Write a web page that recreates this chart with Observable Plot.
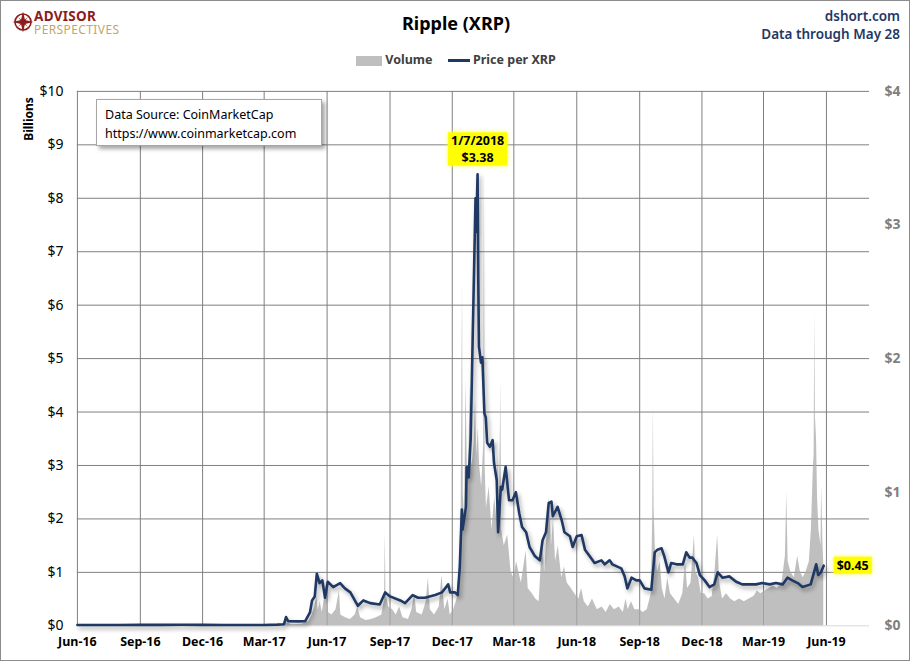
<!DOCTYPE html>
<html><head><meta charset="utf-8">
<script src="https://cdn.jsdelivr.net/npm/d3@7"></script>
<script src="https://cdn.jsdelivr.net/npm/@observablehq/plot@0.6"></script>
<style>
body{margin:0;background:#fff;}
#wrap{position:relative;width:910px;height:661px;box-sizing:border-box;border:1px solid #8c8c8c;font-family:"Noto Sans",sans-serif;overflow:hidden;background:#fff}
#chart{position:absolute;left:-1px;top:-1px}
.abs{position:absolute;white-space:nowrap;line-height:1}
#title{left:0;width:910px;text-align:center;top:13px;font-size:18px;font-weight:bold;color:#000}
#dshort{right:9px;top:6px;text-align:right;font-size:13.5px;font-weight:600;color:#1f3864;line-height:18px}
#legend{left:355px;top:53px;font-size:12.5px;font-weight:bold;color:#404040}
#legend span.t{vertical-align:middle}
#billions{left:28px;top:118px;font-size:12px;font-weight:bold;color:#000;transform:translate(-50%,-50%) rotate(-90deg)}
#src{left:95px;top:98px;width:226px;height:47px;box-sizing:border-box;border:1px solid #a6a6a6;background:#fff;box-shadow:3px 3px 4px rgba(0,0,0,0.35);font-size:12.5px;color:#000;padding:5px 0 0 8px;line-height:19px}
#logo{left:33px;top:9px;line-height:11.5px}
#logo .a{font-size:13.5px;font-weight:bold;color:#8b1c1c;letter-spacing:0.3px}
#logo .p{font-size:12px;color:#c4a66a;letter-spacing:0.4px}
</style></head>
<body>
<div id="wrap">
  <div id="chart"></div>
  <svg class="abs" style="left:11px;top:10px" width="22" height="22" viewBox="-11 -11 22 22">
    <circle r="8" fill="none" stroke="#8b1c1c" stroke-width="1.6"/>
    <polygon points="0,-10.5 2,-2 10.5,0 2,2 0,10.5 -2,2 -10.5,0 -2,-2" fill="#8b1c1c"/>
    <polygon points="5,-5 1,0 5,5 0,1 -5,5 -1,0 -5,-5 0,-1" fill="#8b1c1c"/>
  </svg>
  <div class="abs" id="logo"><span class="a">ADVISOR</span><br><span class="p">PERSPECTIVES</span></div>
  <div class="abs" id="title">Ripple (XRP)</div>
  <div class="abs" id="dshort">dshort.com<br>Data through May 28</div>
  <div class="abs" id="legend">
    <span style="display:inline-block;width:26px;height:10px;background:#bfbfbf;vertical-align:middle"></span>
    <span class="t">Volume</span>
    <span style="display:inline-block;width:22px;height:2.5px;background:#1f3864;vertical-align:middle;margin-left:12px"></span>
    <span class="t">Price per XRP</span>
  </div>
  <div class="abs" id="billions">Billions</div>
  <div class="abs" id="src">Data Source: CoinMarketCap<br>https://www.coinmarketcap.com</div>
</div>
<script>
// ---- data ----
const xTickDates = ["2016-06-01","2016-09-01","2016-12-01","2017-03-01","2017-06-01","2017-09-01","2017-12-01","2018-03-01","2018-06-01","2018-09-01","2018-12-01","2019-03-01","2019-06-01"];
const leftTicks = [0,1,2,3,4,5,6,7,8,9,10];     // billions
const rightTicks = [0,1,2,3,4];                  // price in $
const priceToBillions = 2.5;                     // $4 price aligns with $10B

const price = [
["2016-06-01",0.006],["2016-07-01",0.0065],["2016-08-01",0.0062],["2016-09-01",0.0068],["2016-10-01",0.0072],["2016-11-01",0.0075],["2016-12-01",0.0068],["2017-01-01",0.0064],["2017-02-01",0.0063],["2017-03-01",0.0065],["2017-03-20",0.0085],["2017-03-30",0.012],["2017-04-02",0.065],["2017-04-05",0.035],["2017-04-20",0.033],["2017-04-30",0.035],["2017-05-07",0.10],["2017-05-10",0.19],["2017-05-14",0.22],["2017-05-17",0.39],["2017-05-21",0.32],["2017-05-25",0.34],["2017-05-29",0.21],["2017-06-02",0.33],["2017-06-10",0.29],["2017-06-20",0.32],["2017-06-27",0.28],["2017-07-05",0.25],["2017-07-16",0.15],["2017-07-24",0.19],["2017-08-03",0.17],["2017-08-17",0.16],["2017-08-25",0.25],["2017-09-01",0.22],["2017-09-16",0.19],["2017-09-23",0.17],["2017-10-04",0.23],["2017-10-12",0.21],["2017-10-22",0.21],["2017-11-06",0.23],["2017-11-16",0.25],["2017-11-25",0.31],["2017-11-28",0.25],["2017-12-05",0.25],["2017-12-09",0.23],["2017-12-12",0.44],["2017-12-15",0.87],["2017-12-16",0.72],["2017-12-21",0.89],["2017-12-22",1.19],["2017-12-25",1.11],["2017-12-28",1.41],["2017-12-31",2.2],["2018-01-03",2.95],["2018-01-04",3.2],["2018-01-05",2.95],["2018-01-07",3.38],["2018-01-08",2.6],["2018-01-09",2.09],["2018-01-12",1.97],["2018-01-14",2.01],["2018-01-17",1.59],["2018-01-19",1.56],["2018-01-21",1.37],["2018-01-25",1.34],["2018-01-29",1.39],["2018-01-31",1.22],["2018-02-04",1.09],["2018-02-06",0.70],["2018-02-10",1.04],["2018-02-12",1.02],["2018-02-17",1.19],["2018-02-22",0.94],["2018-02-27",0.94],["2018-03-04",1.00],["2018-03-09",0.84],["2018-03-13",0.74],["2018-03-19",0.70],["2018-03-24",0.59],["2018-04-01",0.52],["2018-04-08",0.49],["2018-04-12",0.64],["2018-04-17",0.70],["2018-04-21",0.92],["2018-04-25",0.93],["2018-04-27",0.82],["2018-05-04",0.89],["2018-05-10",0.79],["2018-05-14",0.70],["2018-05-22",0.67],["2018-05-26",0.59],["2018-06-01",0.67],["2018-06-08",0.68],["2018-06-13",0.57],["2018-06-20",0.52],["2018-06-27",0.47],["2018-07-07",0.49],["2018-07-12",0.46],["2018-07-19",0.49],["2018-07-23",0.46],["2018-08-05",0.43],["2018-08-10",0.37],["2018-08-14",0.28],["2018-08-20",0.36],["2018-08-27",0.34],["2018-09-01",0.34],["2018-09-08",0.28],["2018-09-18",0.27],["2018-09-23",0.55],["2018-09-27",0.57],["2018-10-03",0.58],["2018-10-07",0.52],["2018-10-13",0.40],["2018-10-17",0.47],["2018-10-25",0.46],["2018-11-03",0.46],["2018-11-08",0.55],["2018-11-13",0.51],["2018-11-17",0.51],["2018-11-23",0.47],["2018-11-28",0.38],["2018-12-05",0.34],["2018-12-12",0.29],["2018-12-19",0.31],["2018-12-24",0.40],["2018-12-31",0.36],["2019-01-10",0.37],["2019-01-20",0.33],["2019-01-29",0.31],["2019-02-09",0.31],["2019-02-18",0.31],["2019-02-27",0.32],["2019-03-10",0.31],["2019-03-19",0.32],["2019-03-29",0.31],["2019-04-05",0.36],["2019-04-12",0.34],["2019-04-20",0.32],["2019-04-27",0.29],["2019-05-09",0.31],["2019-05-17",0.46],["2019-05-20",0.38],["2019-05-24",0.40],["2019-05-28",0.45]
];

const volume = [
["2016-06-01",0.002],["2016-09-01",0.002],["2016-12-01",0.003],["2017-03-01",0.003],["2017-03-25",0.01],["2017-04-02",0.06],["2017-04-10",0.02],["2017-04-25",0.03],["2017-05-05",0.08],["2017-05-10",0.2],["2017-05-14",0.35],["2017-05-17",0.55],["2017-05-19",0.3],["2017-05-22",0.45],["2017-05-25",0.25],["2017-05-31",0.75],["2017-06-03",0.25],["2017-06-08",0.2],["2017-06-14",0.3],["2017-06-19",0.65],["2017-06-21",0.2],["2017-06-28",0.15],["2017-07-05",0.12],["2017-07-12",0.2],["2017-07-16",0.35],["2017-07-20",0.15],["2017-07-28",0.1],["2017-08-05",0.12],["2017-08-12",0.15],["2017-08-20",0.2],["2017-08-24",0.5],["2017-08-25",1.75],["2017-08-26",0.6],["2017-08-30",0.35],["2017-09-05",0.3],["2017-09-10",0.2],["2017-09-15",0.35],["2017-09-20",0.15],["2017-09-28",0.12],["2017-10-03",0.3],["2017-10-07",0.6],["2017-10-10",0.25],["2017-10-18",0.2],["2017-10-24",0.45],["2017-10-27",0.9],["2017-10-30",0.3],["2017-11-05",0.2],["2017-11-12",0.35],["2017-11-16",0.95],["2017-11-20",0.3],["2017-11-25",0.5],["2017-11-28",0.2],["2017-12-03",0.3],["2017-12-08",0.5],["2017-12-12",1.2],["2017-12-14",2.2],["2017-12-16",6.4],["2017-12-17",2.5],["2017-12-19",2.0],["2017-12-20",3.2],["2017-12-21",4.6],["2017-12-23",3.0],["2017-12-25",2.8],["2017-12-27",4.5],["2017-12-28",3.2],["2017-12-30",3.0],["2018-01-02",3.4],["2018-01-04",4.2],["2018-01-06",3.2],["2018-01-08",3.7],["2018-01-10",3.0],["2018-01-13",2.6],["2018-01-16",3.4],["2018-01-17",8.6],["2018-01-18",3.0],["2018-01-20",2.2],["2018-01-24",2.6],["2018-01-28",1.8],["2018-02-01",2.4],["2018-02-04",2.0],["2018-02-06",3.2],["2018-02-08",2.0],["2018-02-10",4.6],["2018-02-11",1.8],["2018-02-15",1.5],["2018-02-20",1.7],["2018-02-25",1.0],["2018-03-01",0.9],["2018-03-05",1.2],["2018-03-12",0.8],["2018-03-19",1.4],["2018-03-22",0.7],["2018-03-28",0.6],["2018-04-02",0.5],["2018-04-07",0.45],["2018-04-12",1.6],["2018-04-15",1.0],["2018-04-19",1.8],["2018-04-22",2.4],["2018-04-25",1.5],["2018-04-28",2.0],["2018-05-01",1.2],["2018-05-05",1.5],["2018-05-10",0.9],["2018-05-14",1.1],["2018-05-18",0.8],["2018-05-24",0.7],["2018-05-29",0.6],["2018-06-04",0.5],["2018-06-08",0.7],["2018-06-12",0.45],["2018-06-18",0.35],["2018-06-24",0.5],["2018-07-01",0.3],["2018-07-08",0.35],["2018-07-14",0.25],["2018-07-20",0.4],["2018-07-26",0.3],["2018-08-02",0.35],["2018-08-08",0.25],["2018-08-12",0.5],["2018-08-15",0.3],["2018-08-20",0.45],["2018-08-25",0.3],["2018-09-01",0.3],["2018-09-06",0.25],["2018-09-12",0.3],["2018-09-18",0.6],["2018-09-20",2.0],["2018-09-21",4.1],["2018-09-22",2.2],["2018-09-24",1.4],["2018-09-27",1.0],["2018-10-01",1.2],["2018-10-04",0.7],["2018-10-08",0.5],["2018-10-12",0.9],["2018-10-16",0.6],["2018-10-22",0.5],["2018-10-28",0.4],["2018-11-03",0.6],["2018-11-07",1.2],["2018-11-10",0.7],["2018-11-15",0.8],["2018-11-20",1.7],["2018-11-22",1.0],["2018-11-26",0.9],["2018-11-30",0.6],["2018-12-05",0.6],["2018-12-10",0.5],["2018-12-16",0.55],["2018-12-20",1.0],["2018-12-24",1.7],["2018-12-27",0.8],["2018-12-31",0.5],["2019-01-06",0.6],["2019-01-12",0.5],["2019-01-18",0.45],["2019-01-25",0.5],["2019-02-01",0.45],["2019-02-08",0.5],["2019-02-15",0.55],["2019-02-20",0.65],["2019-02-25",0.6],["2019-03-03",0.65],["2019-03-09",0.7],["2019-03-15",0.75],["2019-03-21",0.7],["2019-03-28",0.8],["2019-04-02",1.3],["2019-04-04",2.5],["2019-04-06",1.2],["2019-04-10",1.0],["2019-04-15",0.9],["2019-04-20",1.3],["2019-04-24",1.0],["2019-04-28",0.9],["2019-05-02",1.0],["2019-05-07",1.2],["2019-05-10",1.8],["2019-05-13",3.0],["2019-05-14",3.2],["2019-05-15",5.85],["2019-05-16",3.5],["2019-05-17",3.9],["2019-05-19",2.4],["2019-05-21",1.8],["2019-05-24",1.5],["2019-05-25",2.6],["2019-05-27",1.5],["2019-05-28",1.2]
];

const peakLabel = {date:"2018-01-07", price:3.38, text:"1/7/2018\n$3.38"};
const lastLabel = {date:"2019-05-28", price:0.45, text:"$0.45"};

// ---- build ----
const P = price.map(([d,v]) => ({date:new Date(d), price:v}));
const V = volume.map(([d,v]) => ({date:new Date(d), vol:v}));
const xTicks = xTickDates.map(d => new Date(d));
const fmt = d3.utcFormat("%b-%y");

const svg = Plot.plot({
  width: 910, height: 661,
  marginLeft: 77, marginRight: 40, marginTop: 91, marginBottom: 35,
  style: {fontFamily: "'Noto Sans', sans-serif", fontSize: "13px", color: "#000", background: "transparent", overflow: "visible"},
  x: {type: "utc", domain: [new Date("2016-06-01"), new Date("2019-08-03")]},
  y: {domain: [0, 10]},
  marks: [
    Plot.gridX(xTicks, {stroke: "#808080", strokeOpacity: 1, strokeWidth: 1}),
    Plot.gridY(leftTicks.filter(v => v > 0), {stroke: "#808080", strokeOpacity: 1, strokeWidth: 1}),
    Plot.gridY([0], {stroke: "#d9d9d9", strokeOpacity: 1, strokeWidth: 1}),
    Plot.areaY(V, {x: "date", y: "vol", fill: "#aaaaaa", fillOpacity: 0.75}),
    Plot.line(P, {x: "date", y: d => d.price * priceToBillions, stroke: "#1f3864", strokeWidth: 2.6, strokeLinejoin: "round"}),
    Plot.axisX(xTicks, {tickFormat: fmt, tickSize: 0, tickPadding: 11, fontWeight: "bold", fontSize: 12.5, label: null}),
    Plot.axisY(leftTicks, {anchor: "left", tickSize: 0, tickPadding: 14, tickFormat: d => "$" + d, fontSize: 14, label: null}),
    Plot.axisY(rightTicks.map(v => v * priceToBillions), {anchor: "right", tickSize: 0, tickPadding: 15, tickFormat: d => "$" + (d / priceToBillions), fontSize: 14, fontWeight: "bold", fill: "#7f7f7f", label: null}),
    Plot.text([peakLabel], {x: d => new Date(d.date), y: d => d.price * priceToBillions, text: "text", dy: -26, fontWeight: "bold", fontSize: 12.5, fill: "#000", lineHeight: 1.3}),
    Plot.text([lastLabel], {x: d => new Date(d.date), y: d => d.price * priceToBillions, text: "text", dx: 13, textAnchor: "start", fontWeight: "bold", fontSize: 12.5, fill: "#000"})
  ]
});
document.getElementById("chart").append(svg);

// shadow on the price line
svg.querySelectorAll('g[aria-label="line"] path').forEach(p => p.style.filter = "drop-shadow(2px 3px 2px rgba(0,0,0,0.35))");
// yellow highlight boxes behind annotation texts
const ns = "http://www.w3.org/2000/svg";
svg.querySelectorAll('g[aria-label="text"] text').forEach(t => {
  const b = t.getBBox();
  const r = document.createElementNS(ns, "rect");
  r.setAttribute("x", b.x - 3); r.setAttribute("y", b.y);
  r.setAttribute("width", b.width + 6); r.setAttribute("height", b.height);
  r.setAttribute("fill", "#ffff00");
  if (t.getAttribute("transform")) r.setAttribute("transform", t.getAttribute("transform"));
  r.style.filter = "drop-shadow(0 0 2px #ffff40)";
  t.parentNode.insertBefore(r, t);
});
</script>
</body></html>
